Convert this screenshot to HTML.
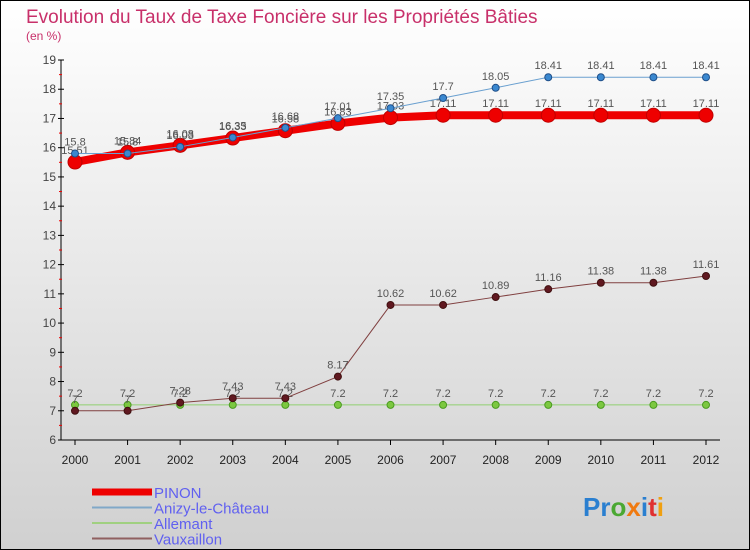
<!DOCTYPE html>
<html><head><meta charset="utf-8"><style>
html,body{margin:0;padding:0;}
body{width:750px;height:550px;overflow:hidden;font-family:"Liberation Sans",sans-serif;}
svg{display:block}
</style></head><body>
<svg id="chart" width="750" height="550" xmlns="http://www.w3.org/2000/svg">
<defs><linearGradient id="bg" x1="0" y1="0" x2="0" y2="1"><stop offset="0" stop-color="#ffffff"/><stop offset="1" stop-color="#d0d0d0"/></linearGradient></defs>
<rect x="0.5" y="0.5" width="749" height="549" fill="url(#bg)" stroke="#000"/>
<text x="26" y="23" font-size="19" fill="#c8306a">Evolution du Taux de Taxe Foncière sur les Propriétés Bâties</text>
<text x="26" y="40" font-size="12" fill="#c8306a">(en %)</text>
<g id="axes"></g><g id="series"></g><g id="legend"></g>
<text x="583" y="516" font-size="26" font-weight="bold" fill="#2a7fd0">P<tspan fill="#2a7fd0">r</tspan><tspan fill="#4aa832">o</tspan><tspan fill="#f07a10">x</tspan><tspan fill="#2a7fd0">i</tspan><tspan fill="#e03030">t</tspan><tspan fill="#f0a010">i</tspan></text>
</svg>
<script>
const years=[2000,2001,2002,2003,2004,2005,2006,2007,2008,2009,2010,2011,2012];
const yTicks=[6,7,8,9,10,11,12,13,14,15,16,17,18,19];
const pinon=[15.51,15.84,16.08,16.33,16.58,16.83,17.03,17.11,17.11,17.11,17.11,17.11,17.11];
const anizy=[15.8,15.8,16.03,16.35,16.68,17.01,17.35,17.7,18.05,18.41,18.41,18.41,18.41];
const allemant=[7.2,7.2,7.2,7.2,7.2,7.2,7.2,7.2,7.2,7.2,7.2,7.2,7.2];
const vaux=[7,7,7.28,7.43,7.43,8.17,10.62,10.62,10.89,11.16,11.38,11.38,11.61];
const NS="http://www.w3.org/2000/svg";
const xS=i=>75+i*(706-75)/12;
const yS=v=>440-(v-6)*(380/13);
function mk(tag,attrs,parent,txt){const e=document.createElementNS(NS,tag);for(const k in attrs)e.setAttribute(k,attrs[k]);if(txt!==undefined)e.textContent=txt;parent.appendChild(e);return e;}
const ax=document.getElementById('axes');
let a=mk('line',{x1:61,y1:yS(19),x2:61,y2:440,stroke:'#000'},ax);


a=mk('line',{x1:61,y1:440,x2:720,y2:440,stroke:'#000'},ax);


yTicks.forEach(v=>{const y=yS(v);
 mk('line',{x1:58,y1:y,x2:64,y2:y,stroke:'#000'},ax);
 if(v<19)mk('line',{x1:59,y1:yS(v+0.5),x2:62,y2:yS(v+0.5),stroke:'#e00'},ax);
 const t=mk('text',{x:56,y:y+4,'font-size':12,'text-anchor':'end',fill:'#444'},ax,v);
 
 });
years.forEach((yr,i)=>{const x=xS(i);
 mk('line',{x1:x,y1:440,x2:x,y2:445,stroke:'#000'},ax);
 const t=mk('text',{x:x,y:464,'font-size':12,'text-anchor':'middle',fill:'#222'},ax,yr);
 
 });
const sg=document.getElementById('series');
function series(name,data,color,w,r,dot,dotStroke,labels){
 const g=mk('g',{},sg);
 
 
 const l=mk('polyline',{points:data.map((v,i)=>xS(i)+','+yS(v)).join(' '),fill:'none',stroke:color,'stroke-width':w,'stroke-linejoin':'round'},g);
 
 
 data.forEach((v,i)=>{const c=mk('circle',{cx:xS(i),cy:yS(v),r:r,fill:dot,stroke:dotStroke,'stroke-width':1},g);
  
  
  if(labels){const t=mk('text',{x:xS(i),y:yS(v)-8,'font-size':11,'text-anchor':'middle',fill:'#555'},g,v);
  
  }});
}
series('allemant',allemant,'#90d070',1,3.5,'#7cc840','#4a9a20',true);
series('vauxaillon',vaux,'#804040',1,3.5,'#601820','#401010',true);
series('pinon',pinon,'#ee0000',8,7,'#ee0000','#c00000',true);
series('anizy',anizy,'#6aa0d0',1,3.5,'#3a88d0','#20508a',true);
const lg=document.getElementById('legend');
[['PINON','#ee0000',7],['Anizy-le-Château','#80a8c8',2],['Allemant','#a0d080',2],['Vauxaillon','#906060',2]].forEach((e,i)=>{
 const y=492+i*15.5;
 const g=mk('g',{},lg);
 
 
 mk('line',{x1:92,y1:y,x2:152,y2:y,stroke:e[1],'stroke-width':e[2]},g);
 mk('text',{x:154,y:y+6,'font-size':15,fill:'#6060f0'},g,e[0]);
});
</script>
</body></html>
